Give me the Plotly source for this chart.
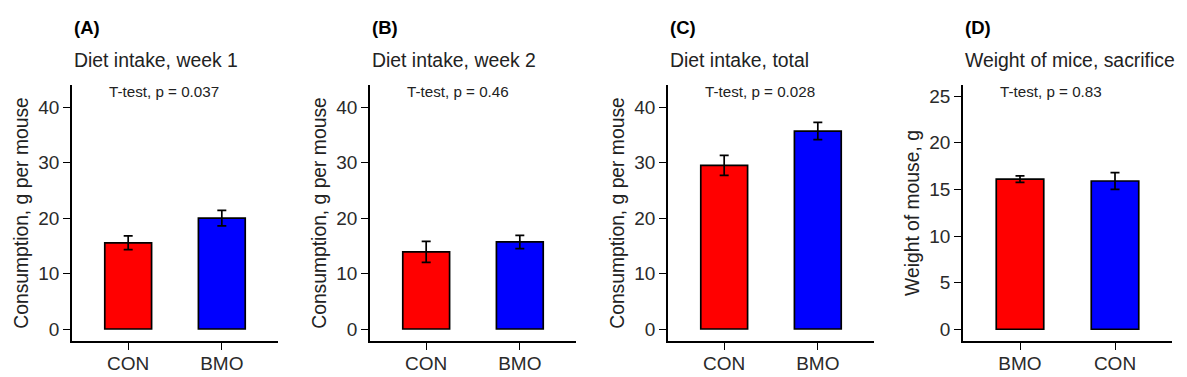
import plotly.graph_objects as go

# ---- data ----
panel_letters = ["(A)", "(B)", "(C)", "(D)"]
panel_titles = ["Diet intake, week 1", "Diet intake, week 2", "Diet intake, total", "Weight of mice, sacrifice"]
y_titles = ["Consumption, g per mouse", "Consumption, g per mouse", "Consumption, g per mouse", "Weight of mouse, g"]
p_labels = ["T-test, p = 0.037", "T-test, p = 0.46", "T-test, p = 0.028", "T-test, p = 0.83"]

cats_a = ["CON", "BMO"]
means_a = [15.55, 20.0]
se_a = [1.25, 1.4]

cats_b = ["CON", "BMO"]
means_b = [13.9, 15.7]
se_b = [1.9, 1.2]

cats_c = ["CON", "BMO"]
means_c = [29.5, 35.7]
se_c = [1.8, 1.55]

cats_d = ["BMO", "CON"]
means_d = [16.1, 15.9]
se_d = [0.35, 0.9]

bar_colors = ["#FF0000", "#0000FF"]

y_ticks_abc = [0, 10, 20, 30, 40]
y_ticks_d = [0, 5, 10, 15, 20, 25]

panels = [
    (cats_a, means_a, se_a, y_ticks_abc, [-2.16, 44.0]),
    (cats_b, means_b, se_b, y_ticks_abc, [-2.16, 44.0]),
    (cats_c, means_c, se_c, y_ticks_abc, [-2.16, 44.0]),
    (cats_d, means_d, se_d, y_ticks_d, [-1.26, 26.2]),
]

# page body has an 8px margin; figure is sized / positioned to compensate
OFF = 8
W, H = 1187 - OFF, 377 - OFF
x_px = [(72, 278), (370, 576), (668, 874), (963, 1172)]
y_top, y_bot = 85 - OFF, 341 - OFF
y_dom = [1 - y_bot / H, 1 - y_top / H]
FONT = "Liberation Sans, Arial, sans-serif"

fig = go.Figure()
layout = dict(
    width=W, height=H, margin=dict(l=0, r=0, t=0, b=0),
    plot_bgcolor="white", paper_bgcolor="white", showlegend=False,
    font=dict(family=FONT, color="#222"),
    annotations=[],
)

for i, (cats, means, se, yt, yr) in enumerate(panels):
    k = "" if i == 0 else str(i + 1)
    xpos = [1, 2]
    fig.add_trace(go.Bar(
        x=xpos, y=means, width=0.5,
        marker=dict(color=bar_colors, line=dict(color="black", width=1.7)),
        error_y=dict(type="data", array=se, color="black", thickness=1.7, width=4.5),
        xaxis="x" + k, yaxis="y" + k, hoverinfo="skip",
    ))
    x0, x1 = x_px[i][0] - OFF, x_px[i][1] - OFF
    layout["xaxis" + k] = dict(
        domain=[x0 / W, x1 / W], anchor="y" + k, range=[0.4, 2.6],
        tickvals=xpos, ticktext=cats, showline=True, linecolor="black", linewidth=1.6,
        ticks="outside", ticklen=7, tickwidth=1.4, tickcolor="black", ticklabelstandoff=-3,
        showgrid=False, zeroline=False, tickfont=dict(size=19, color="#2a2a2a"),
    )
    layout["yaxis" + k] = dict(
        domain=y_dom, anchor="x" + k, range=yr, tickvals=yt,
        showline=True, linecolor="black", linewidth=1.6,
        ticks="outside", ticklen=7, tickwidth=1.4, tickcolor="black",
        showgrid=False, zeroline=False, tickfont=dict(size=19, color="#2a2a2a"),
        title=dict(text=y_titles[i], font=dict(size=19.3, color="#222"), standoff=5),
    )
    layout["annotations"].append(dict(
        x=x0 / W, y=1 - (28 - OFF) / H, xref="paper", yref="paper", xanchor="left", yanchor="middle",
        text="<b>" + panel_letters[i] + "</b>", showarrow=False, font=dict(size=18.5, color="black"),
    ))
    layout["annotations"].append(dict(
        x=x0 / W, y=1 - (60 - OFF) / H, xref="paper", yref="paper", xanchor="left", yanchor="middle",
        text=panel_titles[i], showarrow=False, font=dict(size=19.4, color="#222"),
    ))
    layout["annotations"].append(dict(
        x=(x0 + 35) / W, y=1 - (91 - OFF) / H, xref="paper", yref="paper", xanchor="left", yanchor="middle",
        text=p_labels[i], showarrow=False, font=dict(size=15.2, color="#222"),
    ))

fig.update_layout(**layout)
fig.write_html("out.html")
